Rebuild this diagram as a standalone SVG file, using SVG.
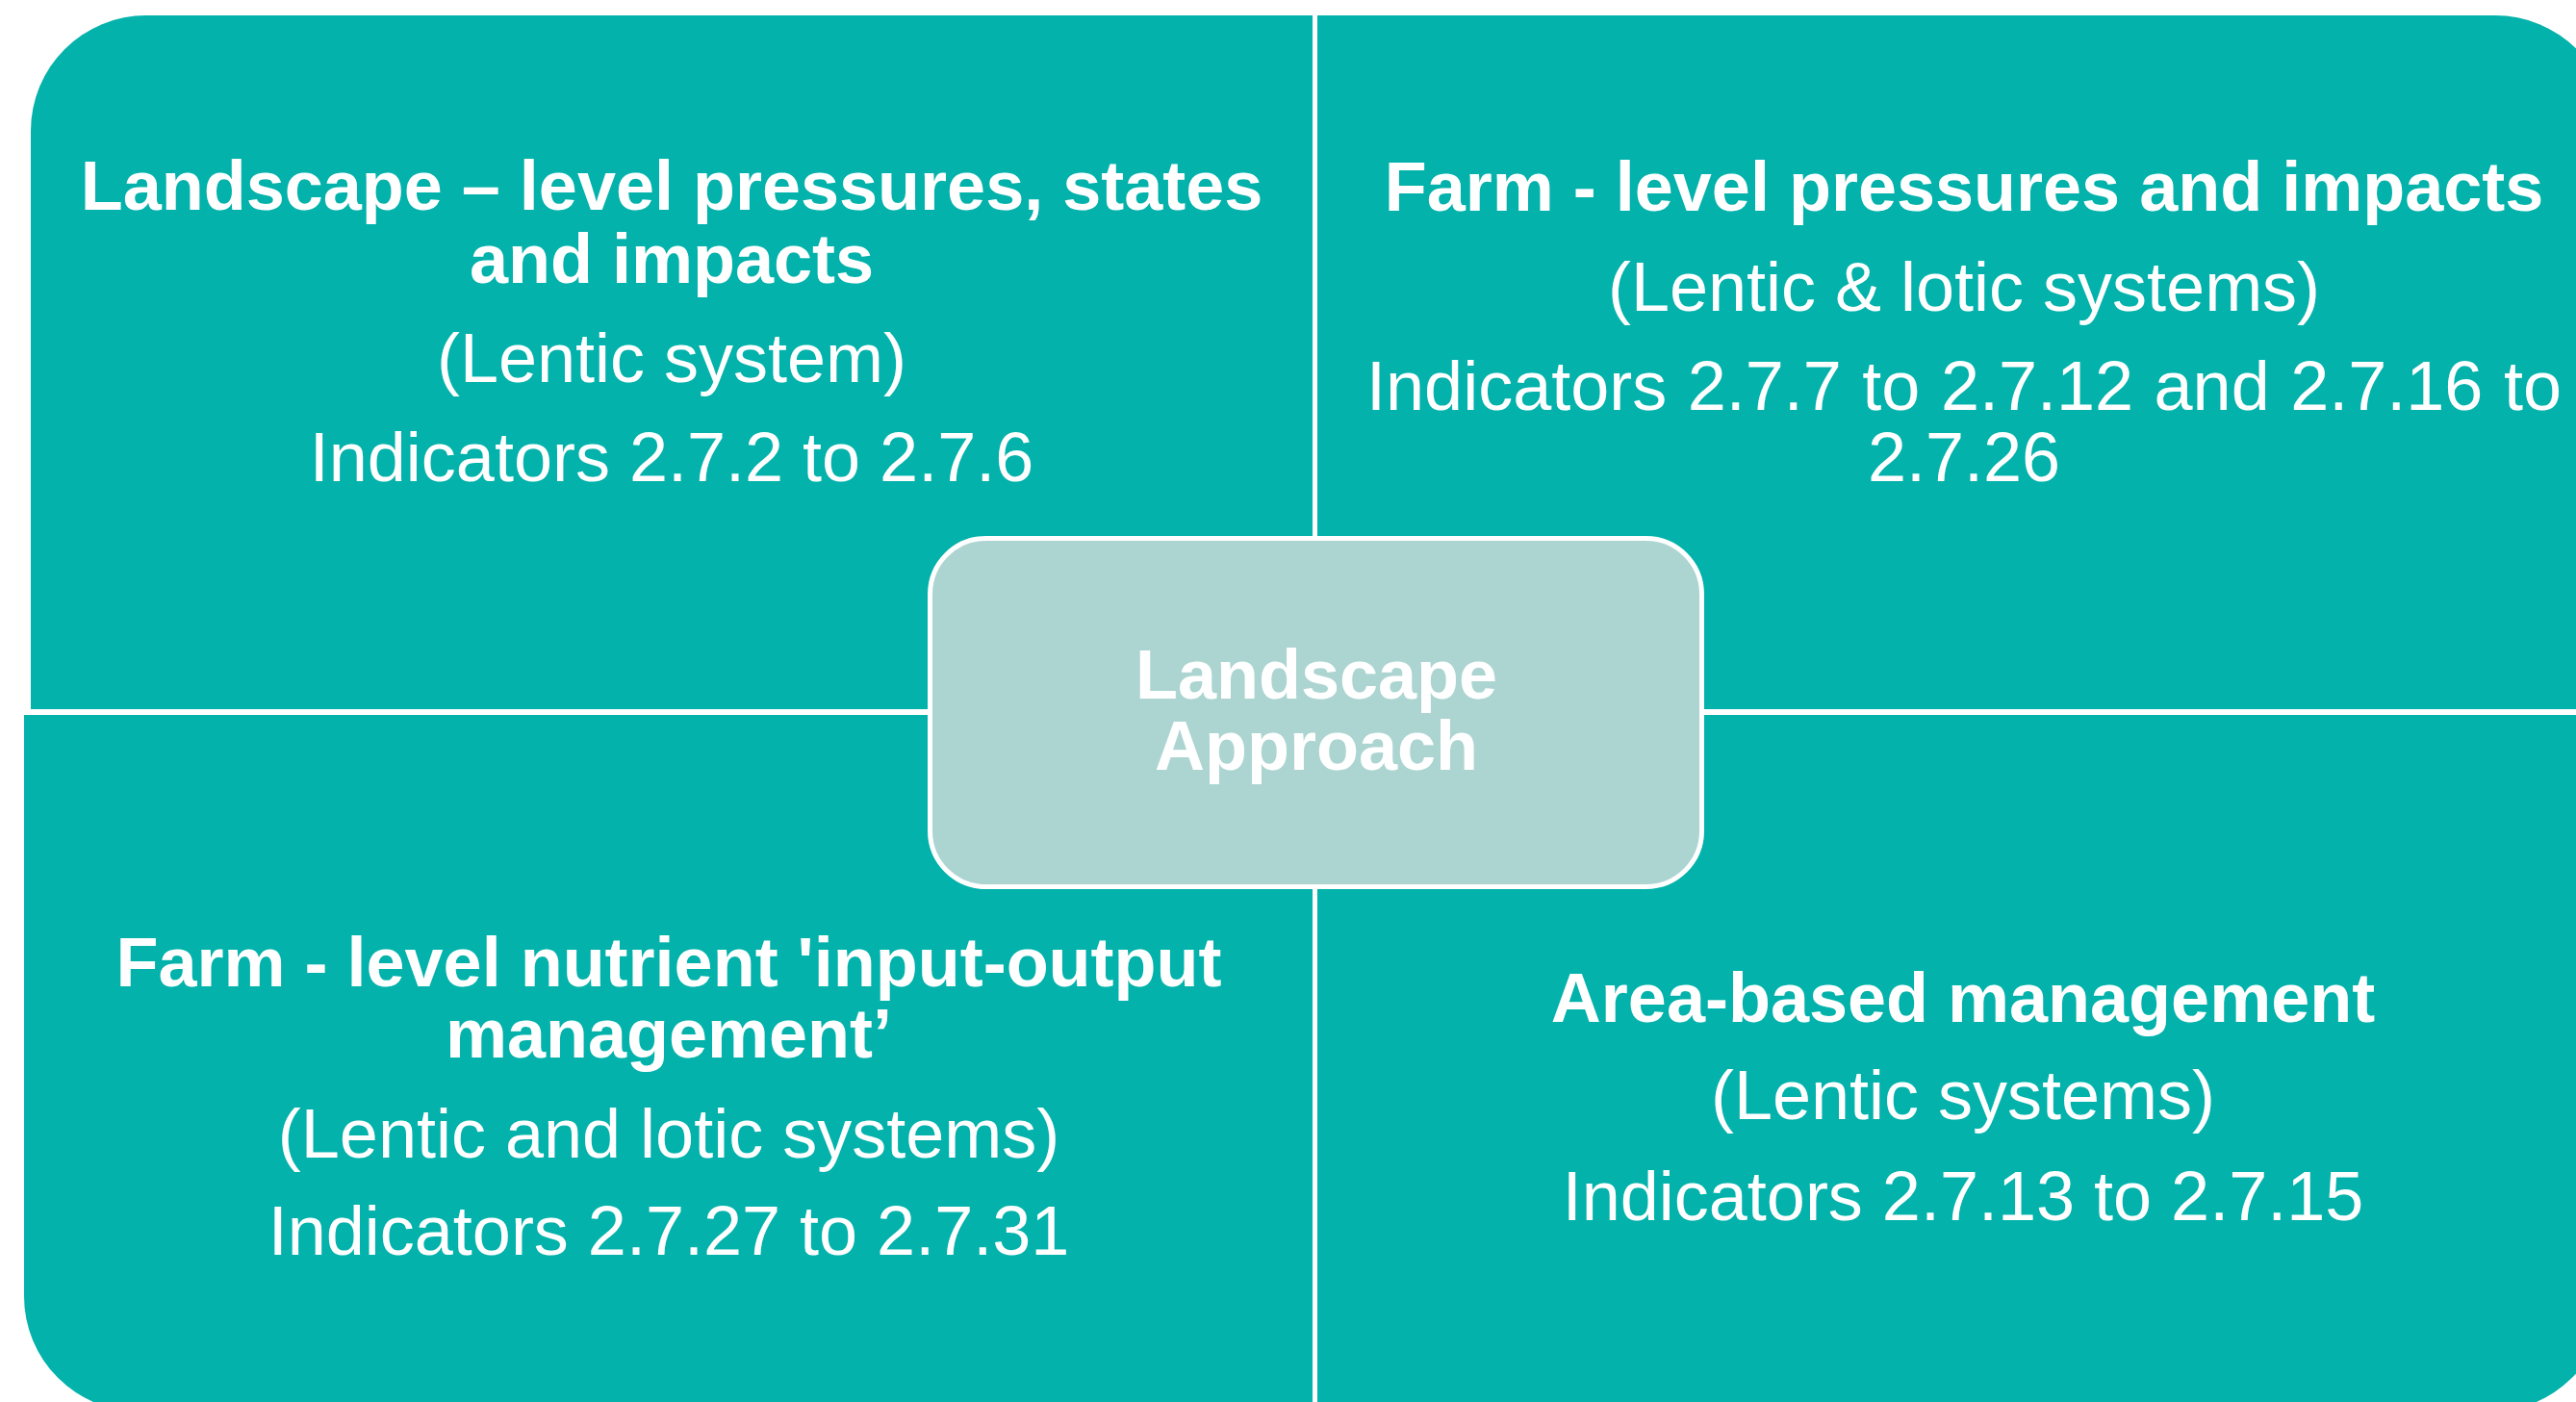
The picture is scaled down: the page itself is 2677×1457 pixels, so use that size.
<svg xmlns="http://www.w3.org/2000/svg" width="2677" height="1457" viewBox="0 0 2677 1457">
  <style>
    .quad { fill: #02B2AB; }
    .hub { fill: #ACD5D2; stroke: #FFFFFF; stroke-width: 5; }
    text { font-family: "Liberation Sans", Arial, sans-serif; fill: #FFFFFF; text-anchor: middle; font-size: 72px; }
    .b { font-weight: bold; }
  </style>
  <rect x="0" y="0" width="2677" height="1457" fill="#FFFFFF"/>

  <!-- four quadrants, each rounded only on its outer corner -->
  <g id="landscape-level">
    <path class="quad" d="M32,136 A120,120 0 0 1 152,16 L1364,16 L1364,737 L32,737 Z"/>
    <text class="b" x="698" y="218">Landscape – level pressures, states</text>
    <text class="b" x="698" y="294">and impacts</text>
    <text x="698" y="397">(Lentic system)</text>
    <text x="698" y="500">Indicators 2.7.2 to 2.7.6</text>
  </g>

  <g id="farm-level-pressures">
    <path class="quad" d="M1369,16 L2593,16 A120,120 0 0 1 2713,136 L2713,737 L1369,737 Z"/>
    <text class="b" x="2041" y="219">Farm - level pressures and impacts</text>
    <text x="2041" y="323">(Lentic &amp; lotic systems)</text>
    <text x="2041" y="426" word-spacing="1.5">Indicators 2.7.7 to 2.7.12 and 2.7.16 to</text>
    <text x="2041" y="500">2.7.26</text>
  </g>

  <g id="farm-level-nutrient">
    <path class="quad" d="M25,743 L1364,743 L1364,1467 L145,1467 A120,120 0 0 1 25,1347 Z"/>
    <text class="b" x="695" y="1025">Farm - level nutrient 'input-output</text>
    <text class="b" x="695" y="1099">management’</text>
    <text x="695" y="1203">(Lentic and lotic systems)</text>
    <text x="695" y="1304">Indicators 2.7.27 to 2.7.31</text>
  </g>

  <g id="area-based">
    <path class="quad" d="M1369,743 L2708,743 L2708,1347 A120,120 0 0 1 2588,1467 L1369,1467 Z"/>
    <text class="b" x="2040" y="1062">Area-based management</text>
    <text x="2040" y="1163">(Lentic systems)</text>
    <text x="2040" y="1268">Indicators 2.7.13 to 2.7.15</text>
  </g>

  <!-- central hub over the crossing gaps -->
  <g id="landscape-approach">
    <rect class="hub" x="966.5" y="559.5" width="802" height="362" rx="58" ry="58"/>
    <text class="b" x="1368" y="726">Landscape</text>
    <text class="b" x="1368" y="800">Approach</text>
  </g>

  <g id="connectors"></g>
</svg>
